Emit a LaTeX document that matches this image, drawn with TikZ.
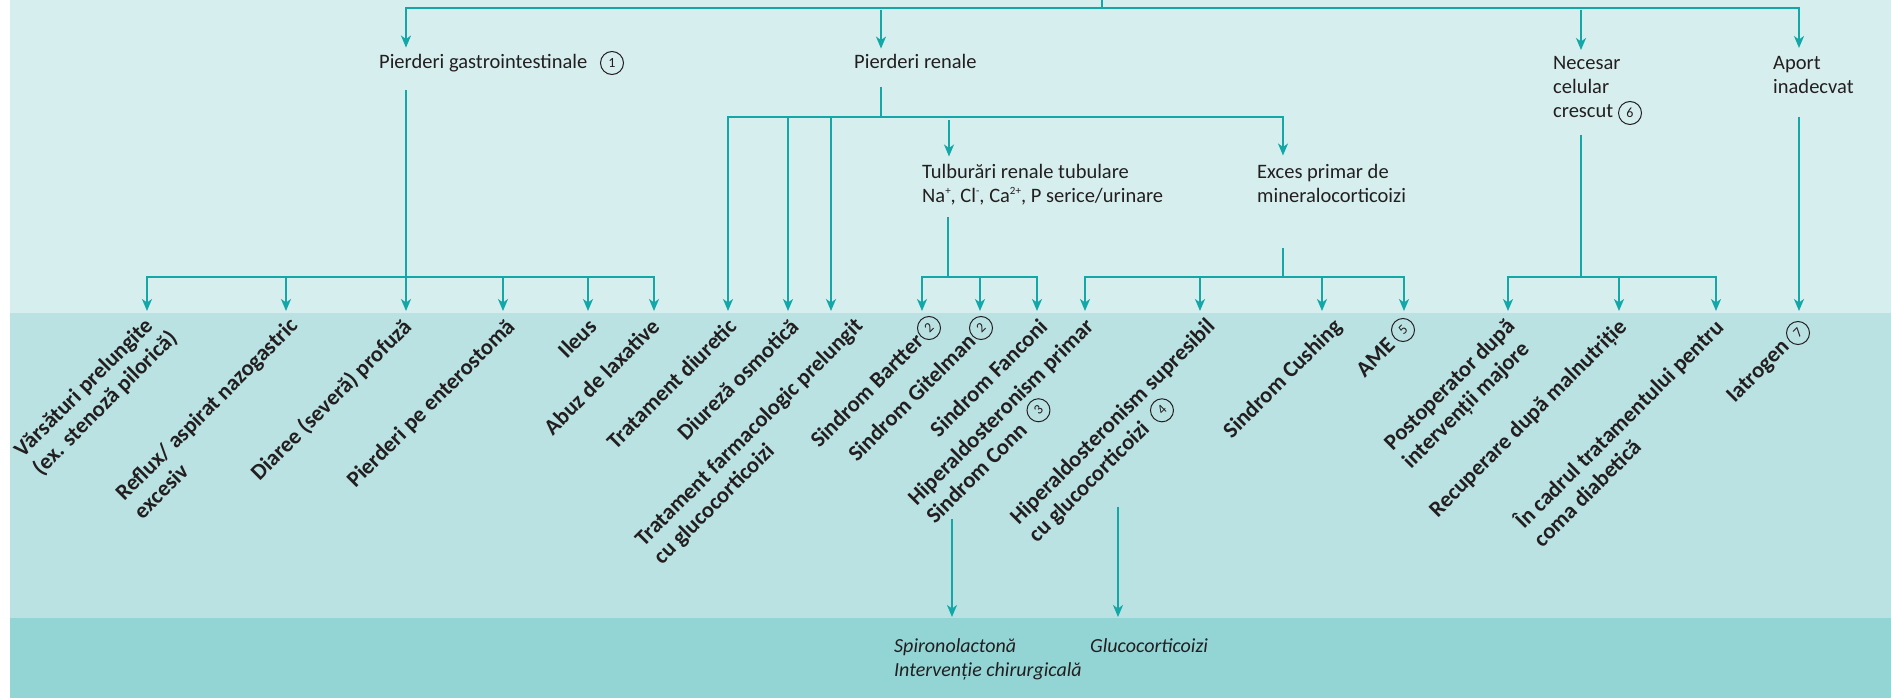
\documentclass[tikz,border=0pt]{standalone}
\usepackage{fontspec}
\setmainfont{Carlito}
\usetikzlibrary{arrows.meta,calc}
\definecolor{bandA}{HTML}{D6EEEE}
\definecolor{bandB}{HTML}{BAE2E2}
\definecolor{bandC}{HTML}{93D5D5}
\definecolor{flow}{HTML}{13A7A8}
\definecolor{ink}{HTML}{231F20}
\newcommand{\supx}[1]{\raisebox{0.42em}{\fontsize{11}{11}\selectfont #1}}
\begin{document}
\begin{tikzpicture}[x=1pt,y=1pt,
  conn/.style={draw=flow, line width=1.6pt},
  arr/.style={conn, -{Stealth[length=12pt,width=10pt,inset=3.5pt]}},
  head/.style={font=\fontsize{20.5}{24}\selectfont, text=ink, inner sep=0pt, align=left},
  lbl/.style={rotate=45, font=\bfseries\fontsize{22.5}{26}\selectfont, text=ink, inner sep=0pt},
  cnum/.style={circle, draw=ink, line width=1pt, minimum size=23pt, inner sep=0pt,
               font=\fontsize{14}{14}\selectfont, text=ink},
  rnum/.style={cnum, rotate=45},
  ther/.style={font=\itshape\fontsize{20}{24}\selectfont, text=ink, inner sep=0pt, align=left}
]
\useasboundingbox (0,0) rectangle (1891,-698);
% background bands
\fill[white] (0,0) rectangle (1891,-698);
\fill[bandA] (10,0) rectangle (1891,-313);
\fill[bandB] (10,-313) rectangle (1891,-618);
\fill[bandC] (10,-618) rectangle (1891,-698);

% ---- first level ----
\node[head, anchor=base west] (gi) at (379,-69) {Pierderi gastrointestinale};
\node[cnum] (c1) at (612,-63) {1};
\node[head, anchor=base west] (ren) at (854,-69) {Pierderi renale};
\node[head, anchor=north west] (nec) at (1553,-56) {Necesar\\celular\\crescut};
\node[cnum] (c6) at (1630,-113) {6};
\node[head, anchor=north west] (apo) at (1773,-56) {Aport\\inadecvat};

% ---- renal second level ----
\node[head, anchor=north west] (tub) at (922,-164.5)
  {Tulburări renale tubulare\\Na\supx{+}, Cl\supx{-}, Ca\supx{2+}, P serice/urinare};
\node[head, anchor=north west] (exc) at (1257,-164.5) {Exces primar de\\mineralocorticoizi};

% ---- rotated cause labels ----
\node[lbl, anchor=base east] (v1) at (154,-327) {Vărsături prelungite};
\node[lbl, anchor=base west] (v2) at ($(v1.base west)!26pt!-90:(v1.base east)$) {(ex. stenoză pilorică)};
\node[lbl, anchor=base east] (r1) at (299,-327) {Reflux/ aspirat nazogastric};
\node[lbl, anchor=base west] (r2) at ($(r1.base west)!26pt!-90:(r1.base east)$) {excesiv};
\node[lbl, anchor=base east] (dia) at (413,-328) {Diaree (severă) profuză};
\node[lbl, anchor=base east] (ent) at (516,-328) {Pierderi pe enterostomă};
\node[lbl, anchor=base east] (ile) at (598,-328) {Ileus};
\node[lbl, anchor=base east] (lax) at (661,-328) {Abuz de laxative};
\node[lbl, anchor=base east] (diu) at (738,-328) {Tratament diuretic};
\node[lbl, anchor=base east] (osm) at (800,-328) {Diureză osmotică};
\node[lbl, anchor=base east] (tf1) at (864,-327) {Tratament farmacologic prelungit};
\node[lbl, anchor=base west] (tf2) at ($(tf1.base west)!26pt!-90:(tf1.base east)$) {cu glucocorticoizi};
\node[rnum] (c2a) at (929,-328) {2};
\node[lbl, anchor=east] (bar) at ($(c2a.center)!1.12!(c2a.west)$) {Sindrom Bartter};
\node[rnum] (c2b) at (981,-328) {2};
\node[lbl, anchor=east] (git) at ($(c2b.center)!1.12!(c2b.west)$) {Sindrom Gitelman};
\node[lbl, anchor=base east] (fan) at (1049,-328) {Sindrom Fanconi};
\node[lbl, anchor=base east] (hp1) at (1095,-328) {Hiperaldosteronism primar};
\node[lbl, anchor=base west] (hp2) at ($(hp1.base west)!26pt!-90:(hp1.base east)$) {Sindrom Conn};
\node[rnum] (c3) at ($(hp2.east)!-22pt!(hp2.west)$) {3};
\node[lbl, anchor=base east] (hs1) at (1216,-328) {Hiperaldosteronism supresibil};
\node[lbl, anchor=base west] (hs2) at ($(hs1.base west)!26pt!-90:(hs1.base east)$) {cu glucocorticoizi};
\node[rnum] (c4) at ($(hs2.east)!-22pt!(hs2.west)$) {4};
\node[lbl, anchor=base east] (cus) at (1343,-328) {Sindrom Cushing};
\node[rnum] (c5) at (1403,-330) {5};
\node[lbl, anchor=east] (ame) at ($(c5.center)!1.4!(c5.west)$) {AME};
\node[lbl, anchor=base east] (po1) at (1516,-328) {Postoperator după};
\node[lbl, anchor=base west] (po2) at ($(po1.base west)!26pt!-90:(po1.base east)$) {intervenții majore};
\node[lbl, anchor=base east] (rec) at (1628,-328) {Recuperare după malnutriție};
\node[lbl, anchor=base east] (dz1) at (1725,-329) {În cadrul tratamentului pentru};
\node[lbl, anchor=base west] (dz2) at ($(dz1.base west)!26pt!-90:(dz1.base east)$) {coma diabetică};
\node[rnum] (c7) at (1798,-333) {7};
\node[lbl, anchor=east] (iat) at ($(c7.center)!1.35!(c7.west)$) {Iatrogen};

% ---- therapy ----
\node[ther, anchor=north west] (th1) at (894,-638) {Spironolactonă\\Intervenție chirurgicală};
\node[ther, anchor=north west] (th2) at (1090,-638) {Glucocorticoizi};

% ---- connectors: top bus ----
\coordinate (root) at (1102,0);
\coordinate (busL) at (406,-8);
\coordinate (busR) at (1799,-8);
\coordinate (renT) at (881,-10);
\coordinate (necT) at (1581,-10);
\draw[conn] (root) -- (root |- busL);
\draw[conn, line cap=rect] (busL) -- (busR);
\draw[arr] (busL) -- ([yshift=7pt]busL |- gi.north);
\draw[arr] (renT) -- ([yshift=6pt]renT |- ren.north);
\draw[arr] (necT) -- ([yshift=6pt]necT |- nec.north);
\draw[arr] (busR) -- ([yshift=8pt]busR |- apo.north);

% ---- gastrointestinal branch ----
\coordinate (giJ) at (406,-277);
\draw[conn] (406,-90) -- (giJ);
\draw[conn, line cap=rect] (147,-277) -- (654,-277);
\foreach \x in {147,286,406,503,588,654}
  \draw[arr] (\x,-277) -- (\x,-311);

% ---- renal branch ----
\coordinate (renJ) at (881,-117);
\draw[conn] (881,-87) -- (renJ);
\draw[conn, line cap=rect] (728,-117) -- (1283,-117);
\foreach \x in {728,788,831}
  \draw[arr] (\x,-117) -- (\x,-311);
\coordinate (tubT) at (949,-120);
\coordinate (excT) at (1283,-117);
\draw[arr] (tubT) -- ([yshift=8pt]tubT |- tub.north);
\draw[arr] (excT) -- ([yshift=9pt]excT |- exc.north);
% tubular disorders
\draw[conn] (948,-217) -- (948,-277);
\draw[conn, line cap=rect] (922,-277) -- (1037,-277);
\foreach \x in {922,980,1037}
  \draw[arr] (\x,-277) -- (\x,-311);
% mineralocorticoid excess
\draw[conn] (1283,-248) -- (1283,-277);
\draw[conn, line cap=rect] (1085,-277) -- (1404,-277);
\foreach \x in {1085,1200,1322,1404}
  \draw[arr] (\x,-277) -- (\x,-311);

% ---- increased cellular demand ----
\draw[conn] (1581,-135) -- (1581,-277);
\draw[conn, line cap=rect] (1508,-277) -- (1716,-277);
\foreach \x in {1508,1619,1716}
  \draw[arr] (\x,-277) -- (\x,-311);

% ---- inadequate intake ----
\draw[arr] (1799,-117) -- (1799,-311);

% ---- towards therapy ----
\coordinate (spS) at (952,-519);
\coordinate (gcS) at (1118,-507);
\draw[arr] (spS) -- ([yshift=21pt]th1.north -| spS);
\draw[arr] (gcS) -- ([yshift=21pt]th2.north -| gcS);
\end{tikzpicture}
\end{document}
